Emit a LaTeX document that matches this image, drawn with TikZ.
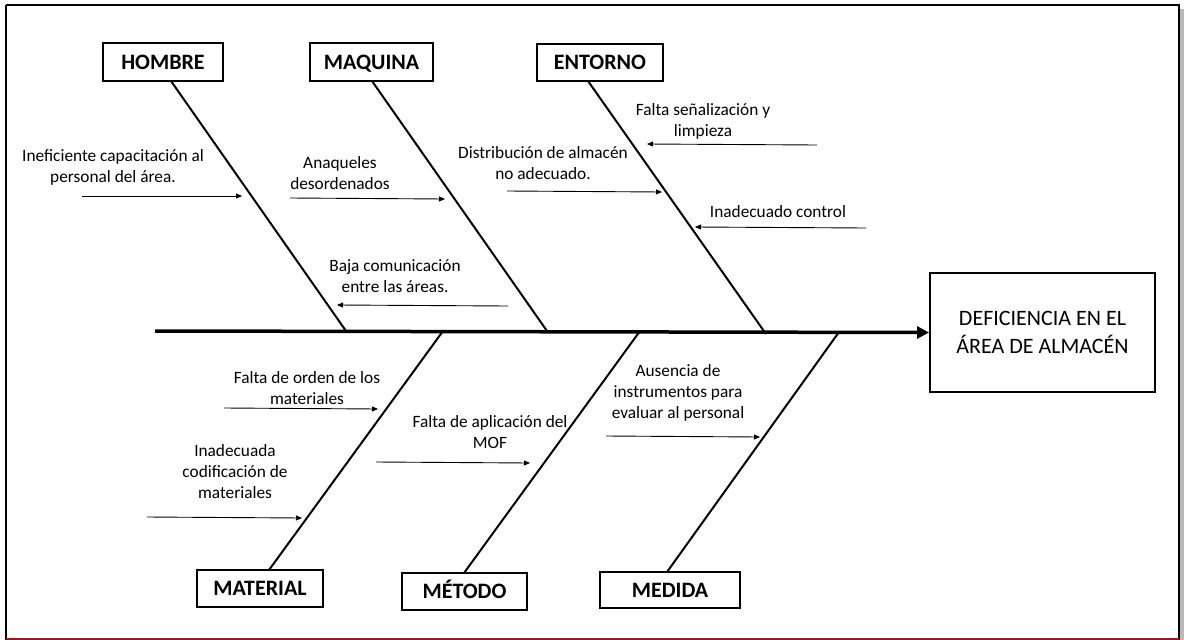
\documentclass[tikz,border=0pt]{standalone}
\usepackage{fontspec}
\setmainfont{Carlito}
\usetikzlibrary{arrows.meta}
\definecolor{darkred}{RGB}{140,30,30}
\begin{document}
\begin{tikzpicture}[x=1pt,y=-1pt,
  catbox/.style={draw, line width=2pt, inner sep=0pt, text height=14.2pt, text depth=0pt, font=\fontsize{22}{26}\selectfont\bfseries},
  effbox/.style={draw, line width=2pt, inner sep=0pt, minimum width=225pt, minimum height=119pt, align=center, font=\fontsize{22}{28}\selectfont},
  cause/.style={inner sep=0pt, align=center, font=\fontsize{17.3}{21}\selectfont},
  bone/.style={line width=2pt},
  spine/.style={line width=3.5pt, -{Triangle[length=12pt,width=12pt]}},
  sub/.style={line width=0.9pt, -{Triangle[length=6pt,width=5pt]}}]
\useasboundingbox (0,0) rectangle (1184,640);
% frame
\fill[gray!55] (1180,9) rectangle (1184,640);
\draw[line width=1.2pt] (6,5) -- (1179,5) -- (1179,641);
\draw[line width=1.2pt] (6,5) -- (6,641);
\draw[line width=1.6pt, darkred] (6,639.2) -- (1179,639.2);

% category boxes
\node[catbox, minimum width=120pt, minimum height=38pt] (hombre) at (163,62) {HOMBRE};
\node[catbox, minimum width=123pt, minimum height=38pt] (maquina) at (371.5,62) {MAQUINA};
\node[catbox, minimum width=126pt, minimum height=37pt] (entorno) at (600,62.5) {ENTORNO};
\node[catbox, minimum width=126pt, minimum height=37pt] (material) at (260,588.5) {MATERIAL};
\node[catbox, minimum width=125pt, minimum height=37pt] (metodo) at (464.5,591.5) {MÉTODO};
\node[catbox, minimum width=140pt, minimum height=36pt] (medida) at (670,590) {MEDIDA};

% effect box
\node[effbox] (efecto) at (1042.5,332.5) {DEFICIENCIA EN EL\\ÁREA DE ALMACÉN};

% spine
\coordinate (spstart) at (155,331);
\draw[spine] (spstart) -- (efecto.west);

% bone end points
\coordinate (hb) at (171,81);   \coordinate (hs) at (346,331);
\coordinate (qb) at (372,81);   \coordinate (qs) at (547,331);
\coordinate (eb) at (588,81);   \coordinate (es) at (766,334);
\coordinate (mb) at (269,570);  \coordinate (ms) at (443,331);
\coordinate (tb) at (464,573);  \coordinate (ts) at (640,331);
\coordinate (db) at (667,572);  \coordinate (ds) at (839,332);
\draw[bone] (hb) -- (hs);
\draw[bone] (qb) -- (qs);
\draw[bone] (eb) -- (es);
\draw[bone] (mb) -- (ms);
\draw[bone] (tb) -- (ts);
\draw[bone] (db) -- (ds);

% causes text
\node[cause] (c1) at (113,167) {Ineficiente capacitación al\\personal del área.};
\node[cause] (c2) at (340,173) {Anaqueles\\desordenados};
\node[cause] (c3) at (395,276) {Baja comunicación\\entre las áreas.};
\node[cause] (c4) at (543,163) {Distribución de almacén\\no adecuado.};
\node[cause] (c5) at (703,121) {Falta señalización y\\limpieza};
\node[cause] (c6) at (778,212) {Inadecuado control};
\node[cause] (c7) at (307,388) {Falta de orden de los\\materiales};
\node[cause] (c8) at (235,472) {Inadecuada\\codificación de\\materiales};
\node[cause] (c9) at (490,432) {Falta de aplicación del\\MOF};
\node[cause] (c10) at (678,393) {Ausencia de\\instrumentos para\\evaluar al personal};

% cause arrows
\coordinate (a1s) at (82,196);  \coordinate (a1e) at (242,196);
\coordinate (a2s) at (290,198); \coordinate (a2e) at (445,199);
\coordinate (a3s) at (508,306); \coordinate (a3e) at (337,305);
\coordinate (a4s) at (507,191); \coordinate (a4e) at (662,192);
\coordinate (a5s) at (817,145); \coordinate (a5e) at (647,144);
\coordinate (a6s) at (866,228); \coordinate (a6e) at (695,227);
\coordinate (a7s) at (224,408); \coordinate (a7e) at (378,409);
\coordinate (a8s) at (147,517); \coordinate (a8e) at (302,518);
\coordinate (a9s) at (376,462); \coordinate (a9e) at (530,463);
\coordinate (a10s) at (606,436); \coordinate (a10e) at (760,437);
\foreach \i in {1,...,10} {\draw[sub] (a\i s) -- (a\i e);}
\end{tikzpicture}
\end{document}
